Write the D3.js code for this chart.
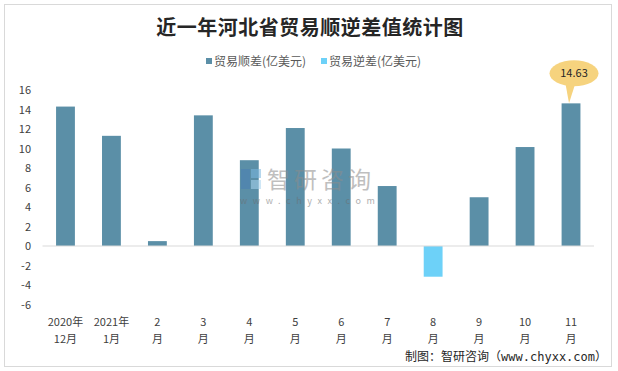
<!DOCTYPE html>
<html>
<head>
<meta charset="utf-8">
<script src="https://cdn.jsdelivr.net/npm/d3@7"></script>
<style>
  html, body { margin: 0; padding: 0; background: #fff; }
  svg { display: block; font-family: "Noto Sans CJK SC", "Noto Sans", sans-serif; }
</style>
</head>
<body>
<svg id="chart" width="618" height="371"></svg>
<script>
// data
const months = [
    ["2020年", "12月"], ["2021年", "1月"], ["2", "月"], ["3", "月"], ["4", "月"], ["5", "月"],
    ["6", "月"], ["7", "月"], ["8", "月"], ["9", "月"], ["10", "月"], ["11", "月"],
]
const surplus = [14.3, 11.3, 0.5, 13.4, 8.8, 12.1, 10.0, 6.15, null, 5.0, 10.15, 14.63]
const deficit = [null, null, null, null, null, null, null, null, -3.15, null, null, null]
const yTicks = [-6, -4, -2, 0, 2, 4, 6, 8, 10, 12, 14, 16]
const seriesNames = ["贸易顺差(亿美元)", "贸易逆差(亿美元)"]
const colors = ["#5B8FA7", "#6DD1F8"]
const calloutIndex = 11

const svg = d3.select("#chart")

// outer frame
svg.append("rect")
    .attr("x", 4.5).attr("y", 4.5)
    .attr("width", 607).attr("height", 362)
    .attr("fill", "#fff")
    .attr("stroke", "#D9D9D9")

svg.append("text")
    .attr("x", 310).attr("y", 35)
    .attr("text-anchor", "middle")
    .attr("font-size", 20)
    .attr("font-weight", "bold")
    .attr("letter-spacing", 0.5)
    .attr("fill", "#262626")
    .text("近一年河北省贸易顺逆差值统计图")

// legend
const legend = svg.append("g").attr("font-size", 12).attr("fill", "#595959")
const legendX = [206, 321]
seriesNames.forEach((name, i) => {
    legend.append("rect")
        .attr("x", legendX[i]).attr("y", 58)
        .attr("width", 6).attr("height", 6)
        .attr("fill", colors[i])
    legend.append("text")
        .attr("x", legendX[i] + 8).attr("y", 65.5)
        .text(name)
})

const x = d3.scaleBand()
    .domain(d3.range(months.length))
    .range([42.5, 594])
    .paddingInner(0.59)
    .paddingOuter(0.295)

const y = d3.scaleLinear().domain([-6, 16]).range([304.5, 90])

// y tick labels (no axis line)
svg.append("g")
    .selectAll("text")
    .data(yTicks)
    .join("text")
    .attr("x", 31)
    .attr("y", (d) => y(d) + 4)
    .attr("text-anchor", "end")
    .attr("font-size", 11)
    .attr("fill", "#404040")
    .text((d) => d)

// bars
const drawBars = (values, color) => {
    svg.append("g")
        .selectAll("rect")
        .data(values.map((v, i) => [i, v]).filter((d) => d[1] !== null))
        .join("rect")
        .attr("x", (d) => x(d[0]))
        .attr("width", x.bandwidth())
        .attr("y", (d) => y(Math.max(0, d[1])))
        .attr("height", (d) => Math.abs(y(d[1]) - y(0)))
        .attr("fill", color)
}
drawBars(surplus, colors[0])
drawBars(deficit, colors[1])

// zero line
svg.append("line")
    .attr("x1", 42.5).attr("x2", 594)
    .attr("y1", y(0)).attr("y2", y(0))
    .attr("stroke", "#D9D9D9")

// x labels, two lines each
const xl = svg.append("g").attr("font-size", 11).attr("fill", "#404040").attr("text-anchor", "middle")
months.forEach((m, i) => {
    const cx = x(i) + x.bandwidth() / 2
    xl.append("text").attr("x", cx).attr("y", 326).text(m[0])
    xl.append("text").attr("x", cx).attr("y", 343).text(m[1])
})

// callout on last bar
const bx = x(calloutIndex) + x.bandwidth() / 2
const barTop = y(surplus[calloutIndex])
const bubble = svg.append("g")
bubble.append("path")
    .attr("d", `M${bx - 6},${barTop - 22} L${bx - 2},${barTop} L${bx + 5},${barTop - 22} Z`)
    .attr("fill", "#F6D37E")
bubble.append("ellipse")
    .attr("cx", bx + 3).attr("cy", barTop - 30)
    .attr("rx", 24.5).attr("ry", 13)
    .attr("fill", "#F6D37E")
bubble.append("text")
    .attr("x", bx + 3).attr("y", barTop - 26)
    .attr("text-anchor", "middle")
    .attr("font-size", 11)
    .attr("fill", "#262626")
    .text(surplus[calloutIndex].toFixed(2))

// watermark
const wm = svg.append("g").attr("opacity", 0.55)
wm.append("rect").attr("x", 241).attr("y", 169).attr("width", 9).attr("height", 20).attr("fill", "#4A7FB5")
wm.append("rect").attr("x", 251).attr("y", 169).attr("width", 10).attr("height", 9).attr("fill", "#7BB8E0")
wm.append("rect").attr("x", 251).attr("y", 180).attr("width", 10).attr("height", 9).attr("fill", "#A8D4F0")
wm.append("text")
    .attr("x", 267).attr("y", 188)
    .attr("font-size", 23)
    .attr("fill", "#8C8C8C")
    .attr("letter-spacing", 4)
    .text("智研咨询")
wm.append("text")
    .attr("x", 240).attr("y", 204)
    .attr("font-size", 9)
    .attr("fill", "#6E6E6E")
    .attr("letter-spacing", 5.6)
    .text("www.chyxx.com")

// footer
svg.append("text")
    .attr("x", 607).attr("y", 361)
    .attr("text-anchor", "end")
    .attr("font-size", 12)
    .attr("font-family", "'DejaVu Sans Mono', 'Noto Sans CJK SC', monospace")
    .attr("fill", "#262626")
    .text("制图：智研咨询（www.chyxx.com）")
</script>
</body>
</html>
